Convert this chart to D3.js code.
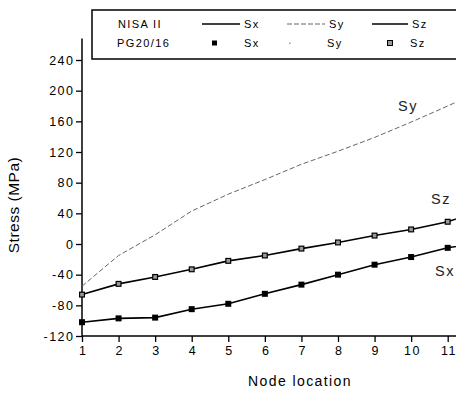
<!DOCTYPE html>
<html>
<head>
<meta charset="utf-8">
<script src="https://cdn.jsdelivr.net/npm/d3@7"></script>
<style>
	body { margin: 0; background: #fff; }
	svg { display: block; font-family: "Liberation Sans", Arial, sans-serif; }
</style>
</head>
<body>
<div id="wrapper"></div>
<script>
// node locations along the x axis
const nodes = [1, 2, 3, 4, 5, 6, 7, 8, 9, 10, 11];
const yTicks = [-120, -80, -40, 0, 40, 80, 120, 160, 200, 240];

// NISA II curves (last value is where the curve runs out of the frame)
const lineNodes = [1, 2, 3, 4, 5, 6, 7, 8, 9, 10, 11, 12];
const nisaSx = [-102, -97, -96, -85, -78, -65, -53, -40, -27, -17, -5, 3];
const nisaSy = [-55, -15, 12, 43, 65, 84, 104, 121, 139, 159, 180, 202];
const nisaSz = [-66, -52, -43, -33, -22, -15, -6, 2, 11, 19, 29, 45];

// PG20/16 points
const pgSx = [-102, -97, -96, -85, -78, -65, -53, -40, -27, -17, -5];
const pgSz = [-66, -52, -43, -33, -22, -15, -6, 2, 11, 19, 29];

const width = 456;
const height = 396;

const svg = d3
	.select("#wrapper")
	.append("svg")
	.attr("width", width)
	.attr("height", height);

const xScale = d3.scaleLinear().domain([1, 11]).range([82, 447.7]);
const yScale = d3.scaleLinear().domain([-120, 240]).range([336, 60]);

// Axes
const xAxis = svg
	.append("g")
	.attr("transform", `translate(0, ${yScale(-120)})`)
	.call(
		d3.axisBottom(xScale)
			.tickValues(nodes)
			.tickSize(6)
			.tickSizeOuter(0)
			.tickPadding(4)
			.tickFormat((d) => d)
	);
xAxis.select(".domain").remove();
xAxis
	.append("line")
	.attr("x1", xScale(1))
	.attr("x2", width)
	.attr("stroke", "#000")
	.attr("stroke-width", 1.5);

const yAxis = svg
	.append("g")
	.attr("transform", `translate(${xScale(1)}, 0)`)
	.call(
		d3.axisLeft(yScale)
			.tickValues(yTicks)
			.tickSize(6)
			.tickSizeOuter(0)
			.tickPadding(3)
			.tickFormat((d) => (d < 0 ? "-" + Math.abs(d) : d))
	);
yAxis.select(".domain").remove();
yAxis
	.append("line")
	.attr("y1", yScale(-120))
	.attr("y2", yScale(268))
	.attr("stroke", "#000")
	.attr("stroke-width", 1.5);

svg.selectAll(".tick line").attr("stroke", "#000").attr("stroke-width", 1.3);
xAxis
	.selectAll(".tick text")
	.attr("fill", "#000")
	.style("font-size", "12.5px")
	.style("letter-spacing", "1.5px")
	.attr("dx", "0.75px");
yAxis
	.selectAll(".tick text")
	.attr("fill", "#000")
	.style("font-size", "12.5px")
	.style("letter-spacing", "1.5px")
	.attr("dx", "1.5px");

// Axis titles
svg
	.append("text")
	.attr("x", 300)
	.attr("y", 386)
	.attr("text-anchor", "middle")
	.style("font-size", "14px")
	.style("letter-spacing", "1.4px")
	.text("Node location");

svg
	.append("text")
	.attr("transform", "translate(19, 205) rotate(-90)")
	.attr("text-anchor", "middle")
	.style("font-size", "15.5px")
	.style("letter-spacing", "0.5px")
	.text("Stress (MPa)");

// Curves
const lineGenerator = (values) =>
	d3
		.line()
		.x((d, i) => xScale(lineNodes[i]))
		.y((d) => yScale(d))(values);

svg
	.append("path")
	.attr("d", lineGenerator(nisaSy))
	.attr("fill", "none")
	.attr("stroke", "#666")
	.attr("stroke-width", 1)
	.attr("stroke-dasharray", "5,2.5");

[nisaSz, nisaSx].forEach((series) => {
	svg
		.append("path")
		.attr("d", lineGenerator(series))
		.attr("fill", "none")
		.attr("stroke", "#000")
		.attr("stroke-width", 1.6);
});

// PG20/16 markers
const size = 6;
svg
	.selectAll(".pg-sx")
	.data(pgSx)
	.enter()
	.append("rect")
	.attr("class", "pg-sx")
	.attr("x", (d, i) => xScale(nodes[i]) - size / 2)
	.attr("y", (d) => yScale(d) - size / 2)
	.attr("width", size)
	.attr("height", size)
	.attr("fill", "#000");

svg
	.selectAll(".pg-sz")
	.data(pgSz)
	.enter()
	.append("rect")
	.attr("class", "pg-sz")
	.attr("x", (d, i) => xScale(nodes[i]) - size / 2 + 0.6)
	.attr("y", (d) => yScale(d) - size / 2 + 0.6)
	.attr("width", size - 1.2)
	.attr("height", size - 1.2)
	.attr("fill", "#999")
	.attr("stroke", "#000")
	.attr("stroke-width", 1.2);

// Curve labels
const curveLabels = [
	{ text: "Sy", x: 398, y: 111 },
	{ text: "Sz", x: 431, y: 204 },
	{ text: "Sx", x: 435, y: 276 },
];
svg
	.selectAll(".curve-label")
	.data(curveLabels)
	.enter()
	.append("text")
	.attr("class", "curve-label")
	.attr("x", (d) => d.x)
	.attr("y", (d) => d.y)
	.style("font-size", "14.5px")
	.style("letter-spacing", "1.5px")
	.attr("fill", "#222")
	.text((d) => d.text);

// Legend
const legend = svg.append("g").attr("class", "legend");
legend
	.append("rect")
	.attr("x", 92)
	.attr("y", 10)
	.attr("width", 400)
	.attr("height", 49)
	.attr("fill", "#fff")
	.attr("stroke", "#000")
	.attr("stroke-width", 1.5);

const legendText = (x, y, text) =>
	legend
		.append("text")
		.attr("x", x)
		.attr("y", y)
		.style("font-size", "11px")
		.style("letter-spacing", "1.4px")
		.text(text);

legendText(118, 28, "NISA II");
legendText(117, 47, "PG20/16");

const row1 = 24;
const row2 = 43;
legend.append("line").attr("x1", 202).attr("x2", 240).attr("y1", row1).attr("y2", row1)
	.attr("stroke", "#000").attr("stroke-width", 1.5);
legendText(244, 28, "Sx");
legend.append("line").attr("x1", 287).attr("x2", 325).attr("y1", row1).attr("y2", row1)
	.attr("stroke", "#666").attr("stroke-width", 1).attr("stroke-dasharray", "5,2");
legendText(329, 28, "Sy");
legend.append("line").attr("x1", 372).attr("x2", 408).attr("y1", row1).attr("y2", row1)
	.attr("stroke", "#000").attr("stroke-width", 1.5);
legendText(412, 28, "Sz");

legend.append("rect").attr("x", 212).attr("y", row2 - 2.5).attr("width", 5).attr("height", 5)
	.attr("fill", "#000");
legendText(244, 47, "Sx");
legend.append("rect").attr("x", 289).attr("y", row2 - 0.5).attr("width", 1.5).attr("height", 1.5)
	.attr("fill", "#999");
legendText(327, 47, "Sy");
legend.append("rect").attr("x", 387.5).attr("y", row2 - 2.5).attr("width", 5).attr("height", 5)
	.attr("fill", "#999").attr("stroke", "#000").attr("stroke-width", 1);
legendText(410, 47, "Sz");
</script>
</body>
</html>
